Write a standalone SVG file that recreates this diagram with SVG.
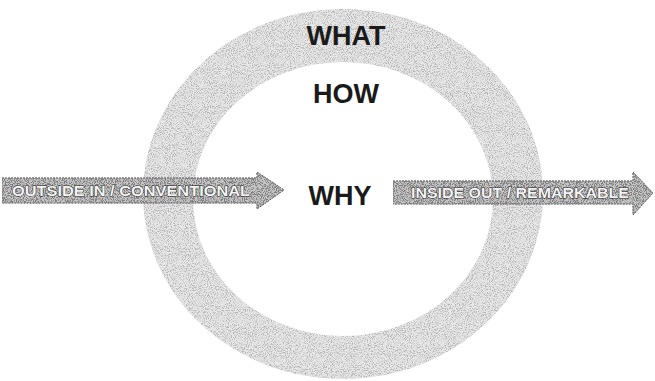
<svg xmlns="http://www.w3.org/2000/svg" width="655" height="381" viewBox="0 0 655 381">
  <defs>
    <filter id="speckle" x="0" y="0" width="100%" height="100%">
      <feTurbulence type="fractalNoise" baseFrequency="0.95" numOctaves="2" seed="7" result="noise"/>
      <feColorMatrix in="noise" type="matrix" values="0 0 0 0 0.45  0 0 0 0 0.45  0 0 0 0 0.45  4 0 0 0 -1.8" result="dots"/>
      <feComposite in="dots" in2="SourceGraphic" operator="in" result="sd"/>
      <feMerge><feMergeNode in="SourceGraphic"/><feMergeNode in="sd"/></feMerge>
    </filter>
    <filter id="speckleDark" x="0" y="0" width="100%" height="100%">
      <feTurbulence type="fractalNoise" baseFrequency="1.1" numOctaves="2" seed="3" result="noise"/>
      <feColorMatrix in="noise" type="matrix" values="0 0 0 0 0.2  0 0 0 0 0.2  0 0 0 0 0.2  5 0 0 0 -2.1" result="dots"/>
      <feComposite in="dots" in2="SourceGraphic" operator="in" result="sd"/>
      <feMerge><feMergeNode in="SourceGraphic"/><feMergeNode in="sd"/></feMerge>
    </filter>
  </defs>
  <style>
    .ring { fill: #e8e8e8; fill-rule: evenodd; }
    .arrow { fill: #c8c8c8; stroke: #555; stroke-width: 1; stroke-dasharray: 2 1; }
    .big { font-family: "Liberation Sans", Arial, sans-serif; font-weight: bold; font-size: 27px; fill: #1a1a1a; text-anchor: middle; }
    .lbl { font-family: "Liberation Sans", Arial, sans-serif; font-weight: bold; font-size: 14px; fill: #f4f4f4; stroke: #222; stroke-width: 0.9; paint-order: stroke; }
  </style>
  <rect width="655" height="381" fill="#ffffff"/>
  <g id="ring">
    <path class="ring" filter="url(#speckle)" d="M143,194 a200,185 0 1,0 400,0 a200,185 0 1,0 -400,0 Z M193,199 a150,137 0 1,0 300,0 a150,137 0 1,0 -300,0 Z"/>
    <text class="big" x="346" y="45">WHAT</text>
  </g>
  <g id="how">
    <text class="big" x="346" y="103">HOW</text>
  </g>
  <g id="why">
    <text class="big" x="340" y="205">WHY</text>
  </g>
  <g id="connectors">
    <g id="arrow-left">
      <path class="arrow" filter="url(#speckleDark)" d="M2,178 L257,178 L257,172 L284,190 L257,209 L257,203 L2,203 Z"/>
      <text class="lbl" x="12" y="196" textLength="238" lengthAdjust="spacingAndGlyphs">OUTSIDE IN / CONVENTIONAL</text>
    </g>
    <g id="arrow-right">
      <path class="arrow" filter="url(#speckleDark)" d="M393,181 L633,181 L633,172 L653,193 L633,215 L633,204 L393,204 Z"/>
      <text class="lbl" x="411" y="198" textLength="218" lengthAdjust="spacingAndGlyphs">INSIDE OUT / REMARKABLE</text>
    </g>
  </g>
</svg>
